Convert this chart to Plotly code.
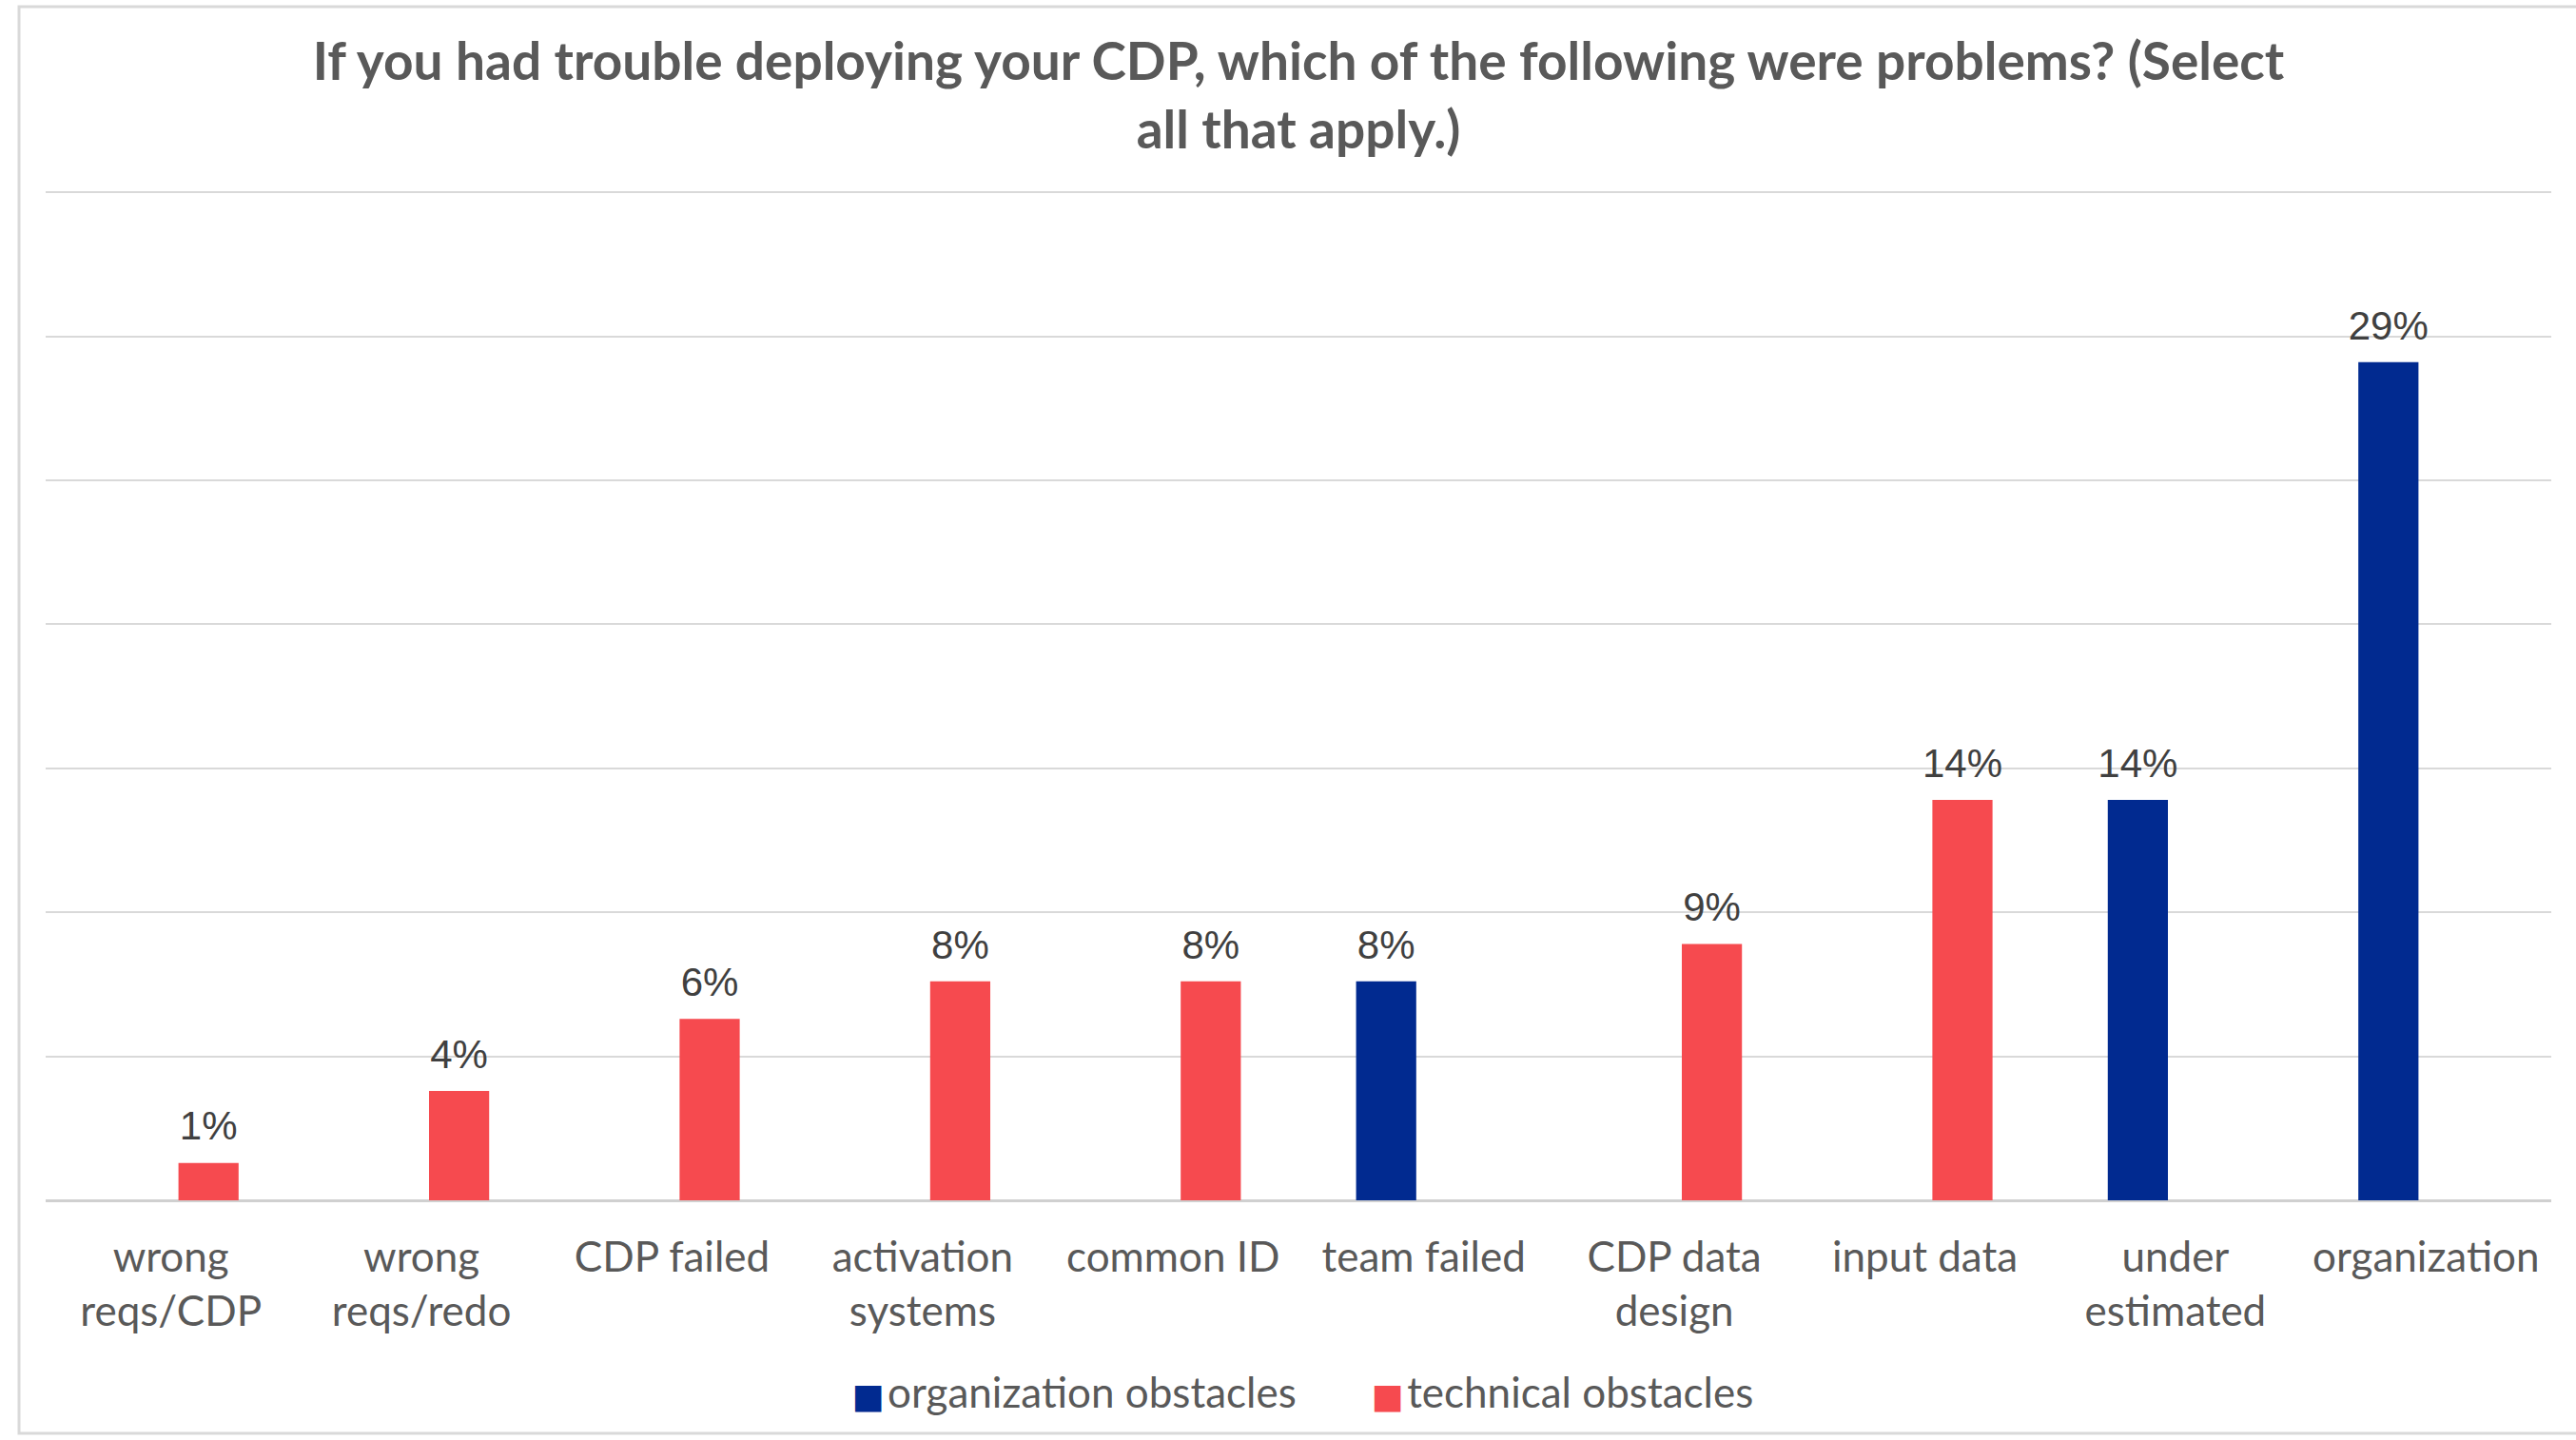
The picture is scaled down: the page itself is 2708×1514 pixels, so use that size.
import plotly.graph_objects as go

# Survey responses: share of respondents reporting each deployment problem (%)
categories = [
    "wrong reqs/CDP", "wrong reqs/redo", "CDP failed", "activation systems",
    "common ID", "team failed", "CDP data design", "input data",
    "under estimated", "organization",
]
tick_labels = [
    "wrong<br>reqs/CDP", "wrong<br>reqs/redo", "CDP failed", "activation<br>systems",
    "common ID", "team failed", "CDP data<br>design", "input data",
    "under<br>estimated", "organization",
]
organization_obstacles = [None, None, None, None, None, 7.6, None, None, 13.9, 29.1]
technical_obstacles = [1.3, 3.8, 6.3, 7.6, 7.6, None, 8.9, 13.9, None, None]

series_names = ["organization obstacles", "technical obstacles"]
BLUE = "#012A90"
RED = "#F64A4F"
TEXT_GRAY = "#595959"
LABEL_GRAY = "#404040"
GRID = "#D9D9D9"

Y_MAX = 35.3
W, H = 2708, 1514
M_L, M_R, M_B = 48, 26, 252
M_T = round(1262 - 1060 * Y_MAX / 35)
plot_w = W - M_L - M_R
plot_h = H - M_T - M_B


def px_x(p):
    return (p - M_L) / plot_w


def px_y(p):
    return (H - M_B - p) / plot_h


# value label: 42px percentage, followed by a short blank line that lifts it off the bar
label_tpl = "<span style='font-size:42px'>%{y:.0f}%</span><br><span> </span>"

fig = go.Figure()
legend_names = [
    series_names[0] + "&nbsp;&nbsp;&nbsp;",
    series_names[1],
]
for name, lname, vals, col in [
    (series_names[0], legend_names[0], organization_obstacles, BLUE),
    (series_names[1], legend_names[1], technical_obstacles, RED),
]:
    fig.add_trace(go.Bar(
        x=categories, y=vals, name=name, marker_color=col,
        marker_line_width=0,
        texttemplate=label_tpl, textposition="outside", cliponaxis=False,
        constraintext="none",
        textfont=dict(family="Liberation Sans, Arial, sans-serif", size=14, color=LABEL_GRAY),
        showlegend=False, hoverinfo="skip",
    ))
    # legend entry: colored square glyph in front of the series name
    fig.add_trace(go.Scatter(
        x=[None], y=[None], mode="markers",
        name=(f"<span style='color:{col};font-size:36px;font-family:DejaVu Sans'>■</span>"
              f"<span style='font-size:14px'> </span>{lname}"),
        marker=dict(size=1, color="rgba(0,0,0,0)"),
        showlegend=True, hoverinfo="skip",
    ))

# chart-area frame
fig.add_shape(
    type="rect", xref="paper", yref="paper",
    x0=px_x(20), x1=px_x(2720), y0=px_y(1507), y1=px_y(7),
    line=dict(color=GRID, width=3), fillcolor="rgba(0,0,0,0)", layer="below",
)

fig.update_layout(
    width=W, height=H,
    margin=dict(l=M_L, r=M_R, t=M_T, b=M_B),
    paper_bgcolor="white", plot_bgcolor="white",
    barmode="group", bargap=0.4, bargroupgap=0.2,
    title=dict(
        text="If you had trouble deploying your CDP, which of the following were problems? (Select<br>all that apply.)",
        x=px_x(1365), xanchor="center", xref="paper",
        y=1 - 84 / H, yanchor="middle",
        font=dict(family="Lato, sans-serif", size=55, color=TEXT_GRAY, weight="bold"),
    ),
    legend=dict(
        orientation="h", x=px_x(1352), xanchor="center",
        y=px_y(1463), yanchor="middle",
        font=dict(family="Lato, sans-serif", size=44, color=TEXT_GRAY),
        itemwidth=30, bgcolor="rgba(0,0,0,0)",
    ),
    font=dict(family="Lato, sans-serif", color=TEXT_GRAY),
)

fig.update_xaxes(
    tickmode="array", tickvals=categories, ticktext=tick_labels,
    tickfont=dict(family="Lato, sans-serif", size=44, color=TEXT_GRAY),
    showline=False, showgrid=False, ticks="", ticklabelstandoff=30,
    fixedrange=True,
)
fig.update_yaxes(
    range=[0, Y_MAX], tickvals=[0, 5, 10, 15, 20, 25, 30, 35], showticklabels=False,
    showgrid=True, gridcolor=GRID, gridwidth=2,
    zeroline=True, zerolinecolor="#D0D0D0", zerolinewidth=3,
    showline=False, fixedrange=True,
)

fig.write_html("out.html", config={"displayModeBar": False})
